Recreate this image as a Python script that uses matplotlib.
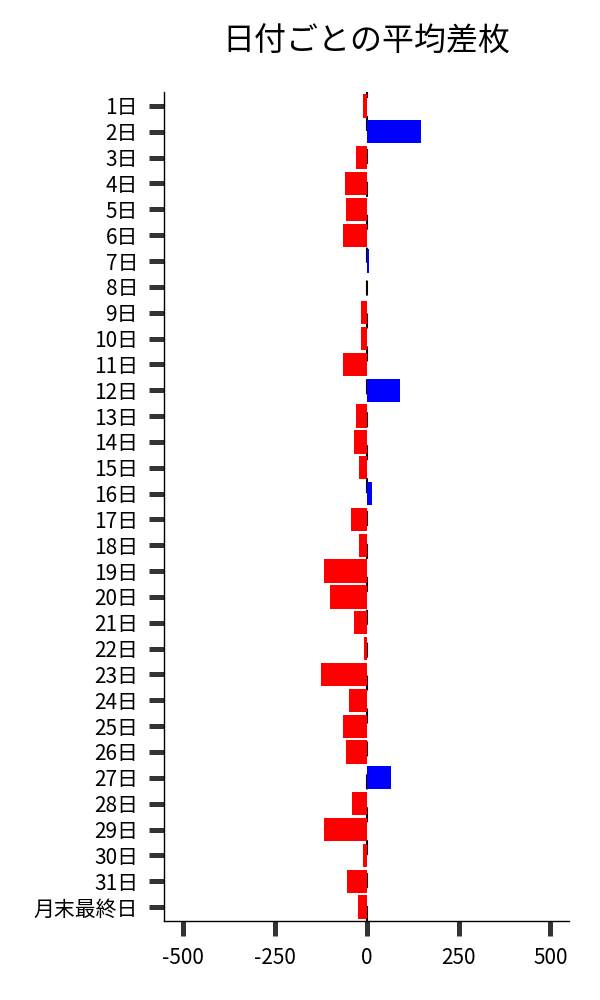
import matplotlib
matplotlib.use("Agg")
import matplotlib.pyplot as plt
import numpy as np

plt.rcParams["font.family"] = ["Noto Sans CJK JP", "DejaVu Sans"]

OUT_PATH = "out.png"

# Days of month + month-end, average difference per day
days = [f"{d}日" for d in range(1, 32)] + ["月末最終日"]
avg_diff = [-10, 147, -30, -60, -57, -65, 7, 1, -16, -14,
            -65, 92, -30, -33, -22, 15, -43, -22, -117, -100,
            -35, -8, -125, -49, -65, -57, 67, -41, -117, -11,
            -52, -24]
x_ticks = [-500, -250, 0, 250, 500]

if __name__ == "__main__":
    fig = plt.figure(figsize=(6, 10), dpi=100)
    ax = fig.add_axes([0.274, 0.079, 0.674, 0.829])

    y = np.arange(len(days))
    colors = ["blue" if v > 0 else "red" for v in avg_diff]

    ax.axvline(0, color="black", lw=1.5, linestyle=(0, (7.2, 8.6)), zorder=1)
    ax.barh(y, avg_diff, height=0.9, color=colors, zorder=2)

    ax.set_xlim(-550, 550)
    ax.set_ylim(len(days) - 0.46, -0.54)

    ax.set_yticks(y)
    ax.set_yticklabels(days, fontsize=15)
    ax.set_xticks(x_ticks)
    ax.set_xticklabels([str(t) for t in x_ticks], fontsize=15)

    ax.tick_params(axis="both", length=11, width=3.6, color="#333333", pad=8)
    for side in ["top", "right"]:
        ax.spines[side].set_visible(False)
    for side in ["left", "bottom"]:
        ax.spines[side].set_linewidth(1.0)

    ax.set_title("日付ごとの平均差枚", fontsize=23, pad=30)

    plt.savefig(OUT_PATH, dpi=100)
    plt.close()
